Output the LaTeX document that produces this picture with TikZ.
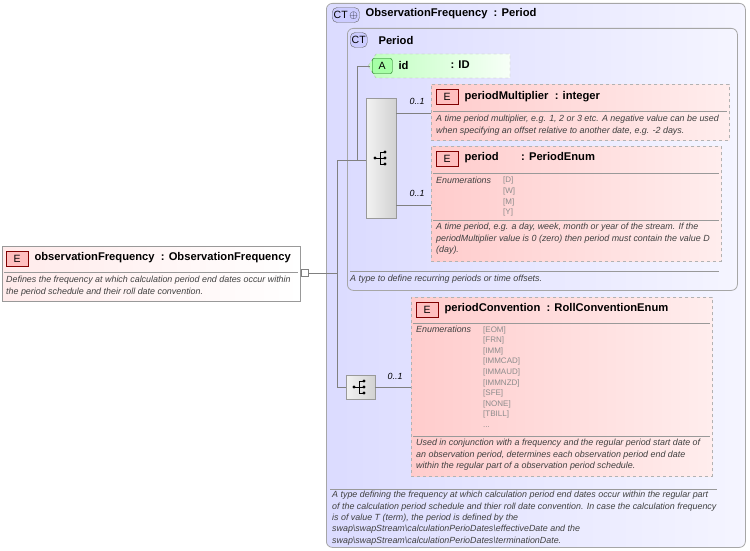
\documentclass[tikz,border=0pt]{standalone}
\usepackage{fontspec}
\setmainfont{Liberation Sans}
\begin{document}
\begin{tikzpicture}[x=1pt,y=-1pt,
  ctbox/.style={draw=black!35,rounded corners=6pt,left color=blue!14,right color=blue!4,line width=0.8pt},
  elbox/.style={draw=black!30,dashed,left color=red!20,right color=red!7,line width=0.7pt},
  seqbox/.style={draw=black!40,left color=black!5,right color=black!18},
  badge/.style={draw=black!60,rounded corners=2pt,inner sep=1.5pt,minimum height=15pt,font=\fontsize{10.5}{10.5}\selectfont},
  ebadge/.style={badge,fill=red!25,draw=red!50!black,minimum width=22pt,rounded corners=0pt},
  title/.style={anchor=west,font=\fontsize{11.2}{12}\selectfont\bfseries},
  desc/.style={anchor=north west,align=left,font=\fontsize{8.9}{11.4}\selectfont\itshape,text=black!75,inner sep=0pt},
  enum/.style={anchor=north west,align=left,font=\fontsize{8}{10.6}\selectfont,text=black!45,inner sep=0pt},
  mult/.style={font=\fontsize{8.9}{9}\selectfont\itshape,anchor=east},
  conn/.style={draw=black!50,line width=0.5pt},
  sep/.style={draw=black!40,line width=0.5pt}]
\useasboundingbox (0,0) rectangle (750,551);
% outer complex type
\node[ctbox,minimum width=419pt,minimum height=544pt,anchor=north west,inner sep=0pt] (ct) at (326,3) {};
\node[badge,fill=blue!20,rounded corners=5pt,anchor=west] (ctb) at (332,15) {CT\,$\oplus$};
\node[title] (ctt) at (362,14) {ObservationFrequency\ \ : Period};
% inner complex type
\node[ctbox,minimum width=390pt,minimum height=262pt,anchor=north west,inner sep=0pt] (pt) at (347,28) {};
\node[badge,fill=blue!20,rounded corners=5pt,anchor=west] (ptb) at (350,40) {CT};
\node[title] (ptt) at (375,40) {Period};
\draw[sep] (350,271) -- (719,271);
\node[desc] (ptd) at (350,275) {A type to define recurring periods or time offsets.};
% attribute id
\draw[draw=black!30,dashed,left color=green!25,right color=green!3] (368,66) -- (376,54) -- (510,54) -- (510,78) -- (376,78) -- cycle;
\node[badge,fill=green!35,draw=green!40!black,anchor=west,minimum width=20pt] (ab) at (372,66) {A};
\node[title] (idn) at (395,65) {id};
\node[title] (idt) at (447,65) {: ID};
\coordinate (ida) at (370,66);
% sequence 1
\node[seqbox,minimum width=30pt,minimum height=120pt,anchor=north west,inner sep=0pt] (s1) at (366,98) {};
\coordinate (s1r) at (396,113);
\coordinate (s1r2) at (396,205);
% periodMultiplier
\node[elbox,minimum width=298pt,minimum height=56pt,anchor=north west,inner sep=0pt] (pm) at (431,84) {};
\node[ebadge,anchor=west] (pmb) at (436,97) {E};
\node[title] (pmt) at (461,97) {periodMultiplier\ \ : integer};
\draw[sep] (433,111) -- (727,111);
\node[desc] (pmd) at (436,115) {A time period multiplier, e.g. 1, 2 or 3 etc. A negative value can be used\\when specifying an offset relative to another date, e.g. -2 days.};
\node[mult] (m1) at (428,101) {0..1};
% period
\node[elbox,minimum width=290pt,minimum height=115pt,anchor=north west,inner sep=0pt] (pe) at (431,146) {};
\node[ebadge,anchor=west] (peb) at (436,159) {E};
\node[title] (pet) at (461,158) {period\qquad : PeriodEnum};
\draw[sep] (433,173) -- (719,173);
\node[desc] (pen) at (436,177) {Enumerations};
\node[enum] (pev) at (503,177) {{[D]}\\{[W]}\\{[M]}\\{[Y]}};
\draw[sep] (433,220) -- (719,220);
\node[desc] (ped) at (436,223) {A time period, e.g. a day, week, month or year of the stream. If the\\periodMultiplier value is 0 (zero) then period must contain the value D\\(day).};
\node[mult] (m2) at (428,193) {0..1};
% sequence 2
\node[seqbox,minimum width=29pt,minimum height=24pt,anchor=north west,inner sep=0pt] (s2) at (346,375) {};
% periodConvention
\node[elbox,minimum width=301pt,minimum height=179pt,anchor=north west,inner sep=0pt] (pc) at (411,297) {};
\node[ebadge,anchor=west] (pcb) at (416,310) {E};
\node[title] (pct) at (441,309) {periodConvention\ \ : RollConventionEnum};
\draw[sep] (413,323) -- (710,323);
\node[desc] (pcn) at (416,326) {Enumerations};
\node[enum] (pcv) at (483,326) {{[EOM]}\\{[FRN]}\\{[IMM]}\\{[IMMCAD]}\\{[IMMAUD]}\\{[IMMNZD]}\\{[SFE]}\\{[NONE]}\\{[TBILL]}\\...};
\draw[sep] (413,436) -- (710,436);
\node[desc] (pcd) at (416,439) {Used in conjunction with a frequency and the regular period start date of\\an observation period, determines each observation period end date\\within the regular part of a observation period schedule.};
\node[mult] (m3) at (406,376) {0..1};
% outer description
\draw[sep] (330,489) -- (717,489);
\node[desc] (ctd) at (332,491) {A type defining the frequency at which calculation period end dates occur within the regular part\\of the calculation period schedule and thier roll date convention. In case the calculation frequency\\is of value T (term), the period is defined by the\\swap\textbackslash swapStream\textbackslash calculationPerioDates\textbackslash effectiveDate and the\\swap\textbackslash swapStream\textbackslash calculationPerioDates\textbackslash terminationDate.};
% top element
\node[draw=black!40,left color=red!8,right color=white,minimum width=298pt,minimum height=55pt,anchor=north west,inner sep=0pt] (oe) at (2,246) {};
\node[ebadge,anchor=west] (oeb) at (6,259) {E};
\node[title] (oet) at (31,258) {observationFrequency\ \ : ObservationFrequency};
\draw[sep] (4,272) -- (298,272);
\node[desc] (oed) at (6,276) {Defines the frequency at which calculation period end dates occur within\\the period schedule and their roll date convention.};
\node[draw=black!50,fill=white,minimum size=7pt,inner sep=0pt] (oc) at (305,273) {};
% connectors
\coordinate (j1) at (337,273);
\coordinate (j2) at (337,160);
\coordinate (j3) at (357,160);
\draw[conn] (oc) -- (j1);
\draw[conn] (j2) -- (j3) |- (ida);
\draw[conn] (j3) -- (s1.west |- j3);
\draw[conn] (j2) |- (s2);
\draw[conn] (s1r) -- (s1r -| pm.west);
\draw[conn] (s1r2) -- (s1r2 -| pe.west);
\draw[conn] (s2) -- (s2 -| pc.west);
% sequence icons
\foreach \cx/\cy in {381/158,360/387}{
  \fill (\cx-6,\cy) circle (1.6pt);
  \draw[line width=0.8pt] (\cx-6,\cy) -- (\cx-1,\cy) (\cx-1,\cy-6) -- (\cx-1,\cy+6)
    (\cx-1,\cy-6) -- (\cx+4,\cy-6) (\cx-1,\cy+6) -- (\cx+4,\cy+6) (\cx-1,\cy) -- (\cx+4,\cy);
  \fill (\cx+4,\cy-6) circle (1.6pt) (\cx+4,\cy) circle (1.6pt) (\cx+4,\cy+6) circle (1.6pt);
}
\end{tikzpicture}
\end{document}
